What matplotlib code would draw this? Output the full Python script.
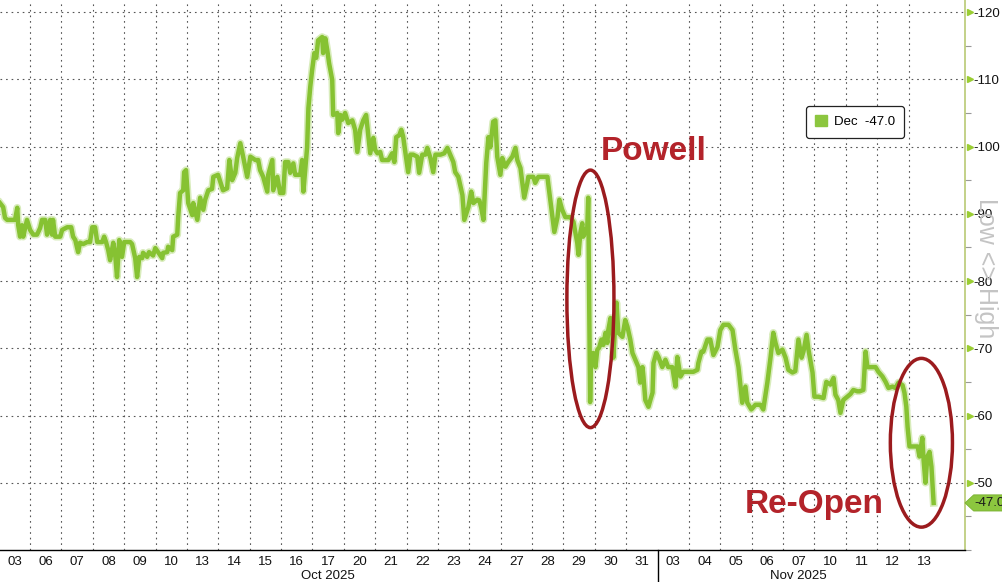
import matplotlib
matplotlib.use("Agg")
import matplotlib.pyplot as plt
import matplotlib.transforms as mtrans
from matplotlib.patches import Ellipse, Patch, Polygon
from matplotlib.ticker import MultipleLocator

plt.rcParams['font.family'] = ['Liberation Sans', 'DejaVu Sans']
plt.rcParams['axes.unicode_minus'] = False

# trading days shown on the x axis
day_labels = ["03", "06", "07", "08", "09", "10", "13", "14", "15", "16",
              "17", "20", "21", "22", "23", "24", "27", "28", "29", "30",
              "31", "03", "04", "05", "06", "07", "10", "11", "12", "13"]
month_labels = ["Oct 2025", "Nov 2025"]
month_first_day = [0, 21]
month_last_day = [21, 30]

# time in trading days since 03 Oct, Dec value
t_days = [
    0.04, 0.14, 0.20, 0.27, 0.52, 0.59, 0.62, 0.68, 0.74, 0.78, 0.90, 1.00,
    1.10, 1.22, 1.32, 1.38, 1.48, 1.54, 1.64, 1.70, 1.73, 1.80, 1.96,
    2.02, 2.18, 2.31, 2.37, 2.44, 2.53, 2.59, 2.69, 2.82, 2.91, 2.98,
    3.07, 3.14, 3.30, 3.36, 3.42, 3.49, 3.55, 3.65, 3.71, 3.77, 3.84, 3.93,
    4.00, 4.19, 4.25, 4.35, 4.41, 4.48, 4.57, 4.60, 4.73, 4.79, 4.92, 4.99,
    5.08, 5.21, 5.24, 5.37, 5.40, 5.53, 5.56, 5.69, 5.72, 5.78, 5.88, 5.91, 5.97,
    6.04, 6.17, 6.20, 6.33, 6.42, 6.52, 6.58, 6.68, 6.80, 6.84, 6.99,
    7.15, 7.28, 7.35, 7.44, 7.54, 7.60, 7.70, 7.79, 7.92,
    8.02, 8.18, 8.27, 8.33, 8.43, 8.56, 8.59, 8.72, 8.75, 8.88, 8.97,
    9.07, 9.13, 9.23, 9.29, 9.39, 9.45, 9.61, 9.67, 9.71, 9.83, 9.87, 9.93, 9.99,
    10.06, 10.12, 10.18, 10.31, 10.34, 10.41, 10.47, 10.53, 10.63, 10.66, 10.79, 10.82, 10.89, 10.95,
    11.04, 11.14, 11.27, 11.36, 11.43, 11.52, 11.62, 11.71, 11.78, 11.84, 11.94,
    12.00, 12.07, 12.16, 12.22, 12.42, 12.54, 12.61, 12.67, 12.77, 12.83, 12.89, 12.96,
    13.05, 13.12, 13.21, 13.34, 13.40, 13.50, 13.60, 13.66, 13.76, 13.85, 13.92,
    14.08, 14.20, 14.30, 14.39, 14.49, 14.55, 14.65, 14.78, 14.84, 14.97,
    15.06, 15.13, 15.25, 15.32, 15.38, 15.45, 15.54, 15.61, 15.67, 15.76, 15.83, 15.89, 15.99,
    16.05, 16.15, 16.24, 16.37, 16.47, 16.53, 16.63, 16.69, 16.75, 16.85, 16.88,
    17.04, 17.10, 17.20, 17.49, 17.52, 17.58, 17.65, 17.71, 17.81, 17.87, 17.96,
    18.06, 18.22, 18.32, 18.38, 18.44, 18.48, 18.54, 18.60, 18.63, 18.70, 18.76, 18.79, 18.85, 18.88, 18.92, 18.95,
    19.02, 19.08, 19.14, 19.21, 19.27, 19.34, 19.40, 19.43, 19.50, 19.56, 19.59, 19.69, 19.75, 19.88, 19.97,
    20.04, 20.13, 20.20, 20.29, 20.39, 20.45, 20.52, 20.55, 20.61, 20.71, 20.77, 20.84, 20.87, 20.96,
    21.03, 21.15, 21.25, 21.34, 21.47, 21.57, 21.63, 21.73, 21.82,
    22.05, 22.14, 22.27, 22.30, 22.40, 22.46, 22.59, 22.68, 22.78, 22.91,
    23.00, 23.10, 23.26, 23.39, 23.48, 23.58, 23.70, 23.80, 23.86, 23.99,
    24.12, 24.28, 24.37, 24.50, 24.60, 24.69, 24.76, 24.85, 24.98,
    25.08, 25.17, 25.30, 25.39, 25.49, 25.59, 25.65, 25.75, 25.81, 25.94,
    26.00, 26.13, 26.29, 26.38, 26.51, 26.61, 26.67, 26.76, 26.83, 26.92,
    27.05, 27.15, 27.24, 27.37, 27.44, 27.56, 27.63, 27.69, 27.95,
    28.04, 28.17, 28.27, 28.36, 28.49, 28.58, 28.68, 28.81, 28.87, 28.93, 28.97,
    29.03, 29.29, 29.35, 29.44, 29.48, 29.54, 29.60, 29.67, 29.73, 29.80,
]
dec_values = [
    -91.6, -91.0, -89.4, -89.1, -89.1, -90.9, -88.3, -86.6, -88.3, -86.6, -89.1, -87.6,
    -86.9, -86.9, -87.9, -89.1, -89.1, -86.9, -89.1, -86.9, -89.1, -86.6, -86.6,
    -87.6, -88.0, -88.0, -86.6, -86.1, -84.3, -85.7, -85.5, -85.8, -85.8, -88.0,
    -88.0, -85.8, -85.8, -86.6, -85.8, -84.6, -83.1, -85.7, -84.0, -80.6, -86.1, -83.6,
    -85.8, -85.8, -85.5, -83.4, -80.6, -83.6, -83.4, -84.2, -83.6, -84.3, -83.8, -84.9,
    -84.3, -83.4, -84.2, -84.3, -85.1, -84.6, -86.6, -86.9, -89.5, -93.1, -93.5, -96.2, -96.5,
    -91.6, -89.8, -91.6, -89.1, -92.4, -90.6, -92.1, -93.5, -93.7, -95.5, -95.8,
    -93.5, -93.8, -98.0, -95.0, -96.1, -98.3, -100.5, -98.5, -95.5,
    -98.5, -98.0, -98.0, -96.5, -95.5, -93.3, -95.8, -98.0, -93.5, -95.5, -93.1,
    -93.1, -97.7, -97.7, -96.1, -97.5, -95.8, -95.8, -98.0, -93.3, -99.9, -105.7, -108.9, -111.4,
    -113.9, -113.2, -115.8, -116.3, -113.9, -116.1, -114.4, -112.4, -109.9, -104.7, -105.0, -102.0, -104.7, -104.0,
    -105.0, -103.5, -103.9, -102.5, -99.2, -102.5, -103.9, -104.7, -101.7, -99.0, -101.3,
    -99.5, -99.0, -99.2, -98.0, -98.0, -99.0, -97.7, -101.4, -101.7, -102.5, -101.5, -99.2,
    -96.2, -98.8, -98.8, -98.5, -96.1, -98.8, -98.8, -99.8, -98.3, -96.2, -98.8,
    -98.8, -99.0, -99.8, -98.8, -97.7, -96.2, -95.5, -92.8, -89.1, -91.0,
    -93.3, -91.6, -92.1, -92.0, -90.9, -89.1, -97.6, -101.4, -99.9, -103.7, -103.9, -98.5, -95.8,
    -98.3, -97.0, -97.7, -98.5, -99.8, -98.0, -96.8, -94.6, -92.4, -94.6, -95.5,
    -95.5, -94.6, -95.5, -95.5, -94.3, -92.1, -89.5, -87.3, -89.5, -92.1, -90.6,
    -89.5, -89.5, -88.8, -87.2, -85.7, -83.9, -87.2, -88.6, -86.6, -87.3, -88.0, -92.4, -62.0, -68.7, -67.8, -69.3,
    -67.2, -69.8, -70.1, -71.3, -70.5, -72.3, -70.8, -72.7, -74.5, -72.3, -68.6, -76.8, -72.3, -71.7, -74.2,
    -73.2, -71.3, -69.3, -68.3, -67.2, -64.9, -67.2, -65.8, -62.3, -61.3, -62.3, -63.4, -67.8, -69.3,
    -68.7, -67.2, -68.3, -67.2, -67.2, -64.3, -68.7, -65.8, -66.5,
    -66.5, -66.5, -66.8, -67.8, -69.5, -69.5, -71.3, -71.3, -69.0, -70.2,
    -72.7, -73.5, -73.5, -72.7, -69.8, -67.2, -61.9, -64.3, -61.9, -60.9,
    -61.6, -61.6, -60.9, -64.9, -68.6, -72.3, -70.8, -69.3, -69.8,
    -68.6, -66.8, -66.4, -66.6, -71.3, -68.6, -69.5, -72.0, -69.8, -66.4,
    -62.8, -62.8, -62.6, -65.0, -64.6, -65.6, -63.1, -62.3, -60.4, -62.3,
    -62.8, -63.2, -63.8, -63.6, -63.6, -63.8, -69.5, -67.2, -67.2,
    -66.5, -65.8, -65.0, -64.1, -64.3, -64.1, -64.9, -64.5, -63.4, -61.3, -58.3,
    -55.4, -55.4, -53.9, -56.7, -53.4, -50.0, -53.9, -54.6, -52.4, -47.0,
]
last_value = -47.0
y_ticks = [-120, -110, -100, -90, -80, -70, -60, -50]

green = '#86c232'
red = '#b3232a'

fig = plt.figure(figsize=(10.03, 5.82), dpi=100)
ax = fig.add_axes([0, 32 / 582, 965 / 1003, 550 / 582])

ax.plot(t_days, dec_values, color='#d8ecbb', lw=5.5, zorder=3, solid_joinstyle='round')
ax.plot(t_days, dec_values, color=green, lw=3.2, zorder=4, solid_joinstyle='round')

ax.set_xlim(0.04, 30.8)
ax.set_ylim(-40, -121.8)

# grid
for y in y_ticks:
    ax.axhline(y, color='#555555', lw=0.8, ls=(0, (1.5, 3.5)), zorder=1)
for d in range(1, 30):
    if d in month_first_day:
        continue
    ax.axvline(d, color='#555555', lw=0.8, ls=(0, (1.5, 3.5)), zorder=1)

# spines
for s in ['top', 'left']:
    ax.spines[s].set_visible(False)
ax.spines['right'].set_color('#b9c974')
ax.spines['right'].set_linewidth(1.2)
ax.spines['bottom'].set_color('black')
ax.spines['bottom'].set_linewidth(1)

# x axis
ax.set_xticks([i + 0.5 for i in range(len(day_labels))])
ax.set_xticklabels(day_labels)
ax.tick_params(axis='x', length=0, pad=4, labelsize=9.5, colors='#111111')
xt = mtrans.blended_transform_factory(ax.transData, ax.transAxes)
for lab, a, b in zip(month_labels, month_first_day, month_last_day):
    ax.text((a + b) / 2, -0.047, lab, transform=xt, ha='center', va='center',
            fontsize=9.5, color='#111111')
for a in month_first_day[1:]:
    ax.plot([a, a], [0, -0.06], transform=xt, color='black', lw=1, clip_on=False)

# y axis on the right
ax.yaxis.tick_right()
ax.set_yticks(y_ticks)
ax.set_yticklabels([str(v) for v in y_ticks])
ax.yaxis.set_minor_locator(MultipleLocator(5))
ax.tick_params(axis='y', which='major', length=0, pad=6, labelsize=9.5, colors='#111111')
ax.tick_params(axis='y', which='minor', length=4, width=0.8, color='#999999')
yt = mtrans.blended_transform_factory(ax.transAxes, ax.transData)
ax.plot([1.005] * len(y_ticks), y_ticks, transform=yt, ls='none', marker='>',
        ms=5, color='#9acd32', clip_on=False, zorder=5)

# last value tag
tag = Polygon([(1.0, last_value), (1.009, last_value - 1.2), (1.04, last_value - 1.2),
               (1.04, last_value + 1.2), (1.009, last_value + 1.2)],
              closed=True, transform=yt, fc='#8cc63f', ec='#78b030', lw=0.6, clip_on=False, zorder=6)
ax.add_patch(tag)
ax.text(1.0095, last_value, f"{last_value:.1f}", transform=yt, ha='left', va='center',
        fontsize=9.5, color='#1a1a1a', clip_on=False, zorder=7)

fig.text(986 / 1003, 1 - 268 / 582, "Low <> High", rotation=270, ha='center', va='center',
         fontsize=18, color='#c4c4c4')

# legend
leg = ax.legend(handles=[Patch(facecolor='#8cc63f', edgecolor='#8cc63f')],
                labels=[f"Dec  {last_value:.1f}"], loc='upper left',
                bbox_to_anchor=(806 / 965, 1 - 106 / 550), borderaxespad=0, fontsize=9.5,
                handlelength=0.9, handleheight=0.9, handletextpad=0.5,
                borderpad=0.7, fancybox=True, framealpha=1, edgecolor='#222222')
leg.get_frame().set_linewidth(0.9)

# annotations
ax.add_patch(Ellipse((18.86, -77.35), width=1.5, height=38.3, fill=False,
                     ec='#9b1b1e', lw=2.5, zorder=6))
ax.add_patch(Ellipse((29.41, -55.95), width=1.98, height=25.1, fill=False,
                     ec='#9b1b1e', lw=2.5, zorder=6))
ax.text(20.87, -99.2, "Powell", ha='center', va='center', fontsize=24,
        fontweight='bold', color=red, zorder=7)
ax.text(26.0, -46.7, "Re-Open", ha='center', va='center', fontsize=24,
        fontweight='bold', color=red, zorder=7)

fig.savefig("out.png", dpi=100)
